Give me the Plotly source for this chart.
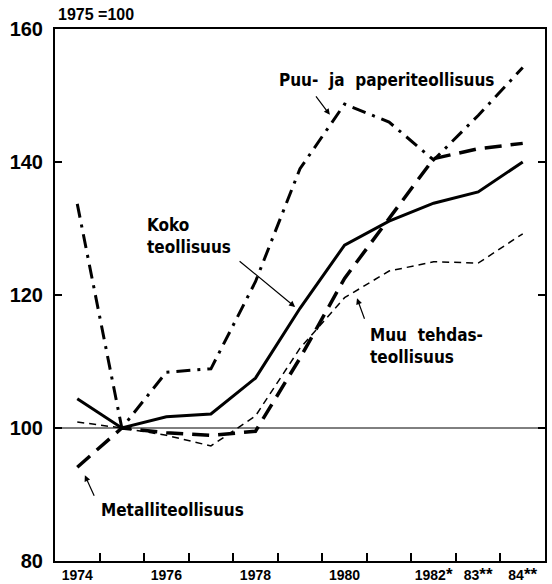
import plotly.graph_objects as go

years = [1974, 1975, 1976, 1977, 1978, 1979, 1980, 1981, 1982, 1983, 1984]

koko = [104.4, 100.0, 101.7, 102.1, 107.5, 118.0, 127.5, 131.1, 133.8, 135.5, 140.0]
puu = [133.7, 100.0, 108.4, 108.9, 122.0, 139.0, 148.7, 146.0, 140.3, 147.0, 154.2]
metalli = [94.1, 100.0, 99.3, 98.9, 99.5, 110.5, 122.5, 131.6, 140.5, 142.0, 142.8]
muu = [100.9, 100.0, 98.9, 97.3, 101.8, 112.0, 119.6, 123.6, 125.0, 124.8, 129.2]

y_ticks = [80, 100, 120, 140, 160]
x_label_vals = [1974, 1976, 1978, 1980, 1982, 1983, 1984]
AST1 = "<span style='font-size:17px'>*</span>"
AST2 = "<span style='font-size:17px'>**</span>"
x_label_text = ["1974", "1976", "1978", "1980", "1982" + AST1, "83" + AST2, "84" + AST2]
x_minor_ticks = [1974.5, 1975.5, 1976.5, 1977.5, 1978.5, 1979.5, 1980.5, 1981.5, 1982.5, 1983.5]

FONT = "Liberation Sans, Arial, sans-serif"
LFONT = "DejaVu Sans Condensed, DejaVu Sans, sans-serif"

fig = go.Figure()

fig.add_trace(go.Scatter(x=years, y=muu, mode="lines", name="Muu tehdasteollisuus",
                         line=dict(color="black", width=1.5, dash="7px,5px")))
fig.add_trace(go.Scatter(x=years, y=metalli, mode="lines", name="Metalliteollisuus",
                         line=dict(color="black", width=3.5, dash="17px,9px")))
fig.add_trace(go.Scatter(x=years, y=puu, mode="lines", name="Puu- ja paperiteollisuus",
                         line=dict(color="black", width=3, dash="14px,7px,3px,7px")))
fig.add_trace(go.Scatter(x=years, y=koko, mode="lines", name="Koko teollisuus",
                         line=dict(color="black", width=3)))

# reference line at 100
fig.add_shape(type="line", xref="paper", yref="y", x0=0, x1=1, y0=100, y1=100,
              line=dict(color="black", width=1))

lbl = dict(family=LFONT, size=17, color="black")
arrow = dict(showarrow=True, arrowhead=2, arrowsize=1, arrowwidth=1.2, arrowcolor="black",
             text="", xref="x", yref="y")
fig.add_annotation(x=1978.89, y=118.2, ax=-57, ay=-47, **arrow)
fig.add_annotation(x=1979.67, y=147.1, ax=-15, ay=-20, **arrow)
fig.add_annotation(x=1980.28, y=119.5, ax=8, ay=22, **arrow)
fig.add_annotation(x=1974.17, y=92.9, ax=10, ay=22, **arrow)

fig.add_annotation(xref="paper", yref="paper", x=(145 - 55) / 490, y=(561 - 236) / 532,
                   text="<b>Koko<br>teollisuus</b>", showarrow=False, align="left",
                   xanchor="left", yanchor="middle", font=lbl)
fig.add_annotation(xref="paper", yref="paper", x=(386 - 55) / 490, y=(561 - 80) / 532,
                   text="<b>Puu-  ja  paperiteollisuus</b>", showarrow=False,
                   xanchor="center", yanchor="middle", font=lbl)
fig.add_annotation(xref="paper", yref="paper", x=(368 - 55) / 490, y=(561 - 346) / 532,
                   text="<b>Muu  tehdas-<br>teollisuus</b>", showarrow=False, align="left",
                   xanchor="left", yanchor="middle", font=lbl)
fig.add_annotation(xref="paper", yref="paper", x=(99 - 55) / 490, y=(561 - 510) / 532,
                   text="<b>Metalliteollisuus</b>", showarrow=False,
                   xanchor="left", yanchor="middle", font=lbl)
fig.add_annotation(xref="paper", yref="paper", x=(96 - 55) / 490, y=1, yshift=15,
                   text="<b>1975 =100</b>", showarrow=False,
                   xanchor="center", yanchor="middle",
                   font=dict(family=FONT, size=16, color="black"))

fig.update_layout(
    width=552, height=584,
    margin=dict(l=55, r=7, t=29, b=23),
    paper_bgcolor="white", plot_bgcolor="white",
    showlegend=False,
    xaxis=dict(range=[1973.5, 1984.5], automargin=False,
               tickmode="array", tickvals=x_label_vals, ticktext=x_label_text,
               ticks="", showgrid=False, zeroline=False, ticklabelstandoff=0,
               showline=True, linecolor="black", linewidth=2, mirror=True,
               tickfont=dict(family=FONT, size=14, color="black", weight="bold"),
               minor=dict(tickmode="array", tickvals=x_minor_ticks, ticks="inside",
                          ticklen=8, tickwidth=2, tickcolor="black", showgrid=False)),
    yaxis=dict(range=[80, 160], tickmode="array", tickvals=y_ticks, automargin=False,
               ticks="inside", ticklen=7, tickwidth=1.5, tickcolor="black",
               showgrid=False, zeroline=False,
               showline=True, linecolor="black", linewidth=2, mirror="ticks",
               ticklabelstandoff=6,
               tickfont=dict(family=FONT, size=20, color="black", weight="bold")),
)

fig.write_html("out.html", config={"displayModeBar": False},
               post_script="document.body.style.margin='0';")
